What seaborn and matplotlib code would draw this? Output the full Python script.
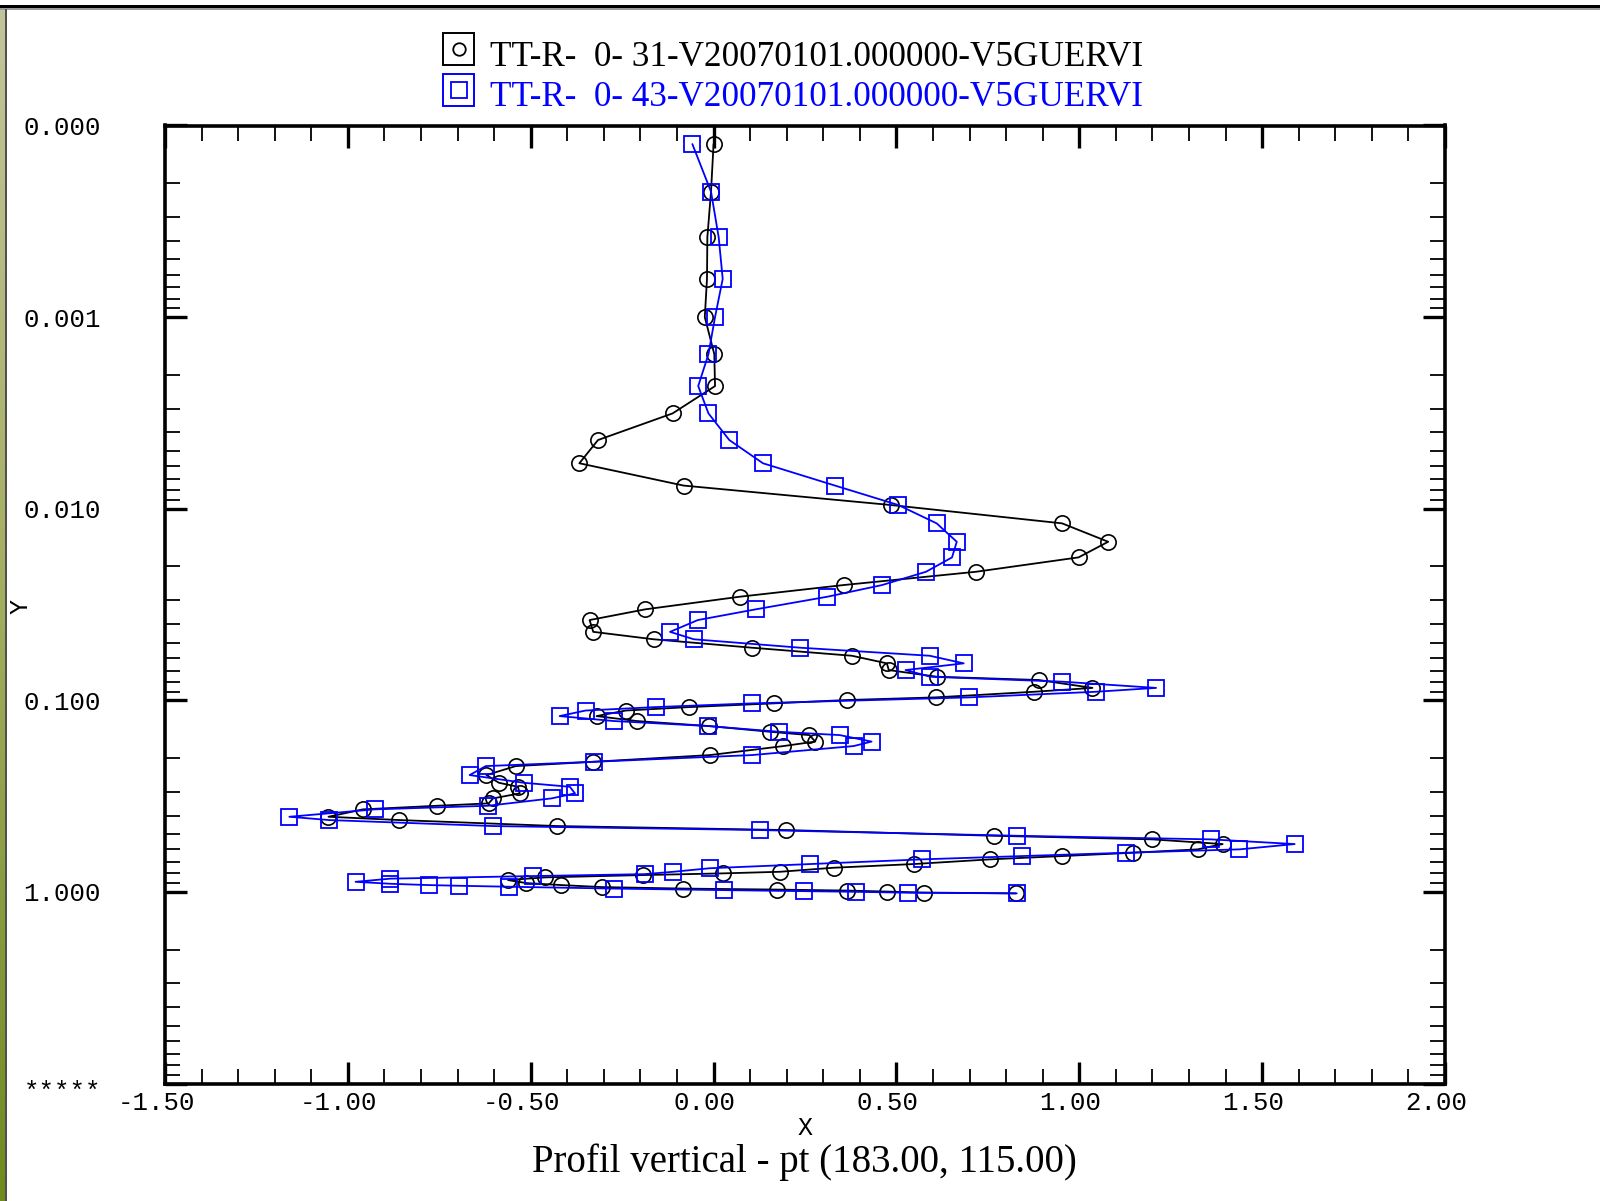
import numpy as np
import pandas as pd
import matplotlib
matplotlib.use("Agg")
import matplotlib.pyplot as plt
import seaborn as sns
from matplotlib.ticker import FixedLocator, MultipleLocator, LogLocator, NullFormatter, FixedFormatter
from matplotlib.patches import Rectangle
from matplotlib.lines import Line2D
from matplotlib.transforms import ScaledTranslation
from matplotlib.colors import LinearSegmentedColormap

# ---------------- data ----------------
black_label = "TT-R-  0- 31-V20070101.000000-V5GUERVI"
blue_label = "TT-R-  0- 43-V20070101.000000-V5GUERVI"

black_x = [0.000, -0.007, -0.017, -0.018, -0.024, 0.002, 0.004, -0.112, -0.316, -0.367,
           -0.082, 0.484, 0.953, 1.079, 0.998, 0.718, 0.356, 0.071, -0.187, -0.339,
           -0.329, -0.164, 0.104, 0.378, 0.474, 0.479, 0.611, 0.889, 1.036, 0.876,
           0.607, 0.364, 0.164, -0.066, -0.240, -0.320, -0.210, -0.012, 0.155, 0.262,
           0.278, 0.191, -0.010, -0.329, -0.541, -0.621, -0.587, -0.535, -0.530, -0.603,
           -0.615, -0.756, -0.959, -1.053, -0.859, -0.427, 0.199, 0.767, 1.200, 1.392,
           1.324, 1.146, 0.954, 0.756, 0.547, 0.328, 0.182, 0.027, -0.192, -0.462,
           -0.562, -0.512, -0.416, -0.306, -0.083, 0.173, 0.365, 0.475, 0.575, 0.826]
black_y = [1.25e-4, 2.215e-4, 3.83e-4, 6.32e-4, 1.0e-3, 1.56e-3, 2.29e-3, 3.18e-3, 4.38e-3, 5.79e-3,
           7.57e-3, 9.56e-3, 0.01192, 0.01487, 0.01794, 0.02132, 0.02501, 0.02879, 0.0335, 0.0381,
           0.0439, 0.0480, 0.0531, 0.0585, 0.0641, 0.0695, 0.0753, 0.0783, 0.0861, 0.0902,
           0.0965, 0.0996, 0.1037, 0.1084, 0.1130, 0.1208, 0.1282, 0.1362, 0.1459, 0.1518,
           0.1641, 0.1732, 0.1930, 0.2092, 0.2203, 0.2454, 0.2692, 0.2825, 0.3058, 0.3248,
           0.3449, 0.3549, 0.3706, 0.4050, 0.4214, 0.4529, 0.4752, 0.5089, 0.5314, 0.5623,
           0.5992, 0.6241, 0.6494, 0.6758, 0.7149, 0.7474, 0.7844, 0.7995, 0.816, 0.8392,
           0.8667, 0.8986, 0.9205, 0.9428, 0.9600, 0.9716, 0.9833, 0.9952, 1.007, 1.017]

blue_x = [-0.058, -0.007, 0.014, 0.025, 0.004, -0.014, -0.042, -0.014, 0.043, 0.135,
          0.332, 0.505, 0.610, 0.665, 0.652, 0.581, 0.461, 0.311, 0.115, -0.043,
          -0.119, -0.054, 0.236, 0.591, 0.684, 0.525, 0.593, 0.954, 1.210, 1.045,
          0.698, 0.105, -0.158, -0.350, -0.421, -0.273, -0.014, 0.180, 0.345, 0.432,
          0.383, 0.105, -0.327, -0.623, -0.667, -0.519, -0.393, -0.379, -0.443, -0.617,
          -0.927, -1.160, -1.051, -0.603, 0.127, 0.829, 1.360, 1.589, 1.438, 1.127,
          0.844, 0.570, 0.264, -0.011, -0.110, -0.188, -0.494, -0.884, -0.979, -0.884,
          -0.779, -0.696, -0.559, -0.273, 0.029, 0.246, 0.390, 0.531, 0.829]
blue_y = [1.25e-4, 2.215e-4, 3.83e-4, 6.32e-4, 1.0e-3, 1.56e-3, 2.29e-3, 3.18e-3, 4.38e-3, 5.79e-3,
          7.57e-3, 9.56e-3, 0.01192, 0.01487, 0.01794, 0.02132, 0.02501, 0.02879, 0.0335, 0.0381,
          0.0439, 0.0480, 0.0531, 0.0585, 0.0641, 0.0695, 0.0753, 0.0799, 0.0861, 0.0902,
          0.0965, 0.1037, 0.1084, 0.1130, 0.1208, 0.1282, 0.1362, 0.1459, 0.1518, 0.1641,
          0.1732, 0.1930, 0.2092, 0.2203, 0.2454, 0.2692, 0.2825, 0.3058, 0.3248, 0.3549,
          0.3706, 0.4050, 0.4214, 0.4529, 0.4752, 0.5089, 0.5314, 0.5623, 0.5992, 0.6241,
          0.6494, 0.6758, 0.7149, 0.752, 0.7844, 0.807, 0.826, 0.852, 0.885, 0.906,
          0.9205, 0.928, 0.939, 0.960, 0.978, 0.990, 0.998, 1.009, 1.017]

x_ticks = [-1.5, -1.0, -0.5, 0.0, 0.5, 1.0, 1.5, 2.0]
x_tick_labels = ["-1.50", "-1.00", "-0.50", "0.00", "0.50", "1.00", "1.50", "2.00"]
y_ticks = [1e-4, 1e-3, 1e-2, 1e-1, 1.0, 10.0]
y_tick_labels = ["0.000", "0.001", "0.010", "0.100", "1.000", "*****"]
title_text = "Profil vertical - pt (183.00, 115.00)"

# ---------------- style ----------------
sns.set_style("white")
plt.rcParams["font.family"] = ["DejaVu Sans"]
plt.rcParams["text.color"] = "black"
MONO = "Liberation Mono"
SERIF = "Liberation Serif"

W, H = 1600, 1201
fig = plt.figure(figsize=(W / 100, H / 100), dpi=100)
fig.patch.set_facecolor("white")

ax = fig.add_axes([165 / W, 1 - 1083.6 / H, (1445 - 165) / W, (1083.6 - 125.5) / H])
ax.set_facecolor("white")

df_black = pd.DataFrame({"x": black_x, "y": black_y})
df_blue = pd.DataFrame({"x": blue_x, "y": blue_y})

sns.lineplot(data=df_black, x="x", y="y", sort=False, estimator=None, ax=ax,
             color="black", linewidth=1.3, marker="o", markersize=11,
             markerfacecolor="none", markeredgecolor="black", markeredgewidth=1.2)
sns.lineplot(data=df_blue, x="x", y="y", sort=False, estimator=None, ax=ax,
             color="#0000ff", linewidth=1.3, marker="s", markersize=11.5,
             markerfacecolor="none", markeredgecolor="#0000ff", markeredgewidth=1.3)

ax.set_yscale("log")
ax.set_xlim(-1.5, 2.0)
ax.set_ylim(10.0, 1e-4)
ax.set_xlabel("")
ax.set_ylabel("")
if ax.get_legend() is not None:
    ax.get_legend().remove()

ax.xaxis.set_major_locator(FixedLocator(x_ticks))
ax.xaxis.set_major_formatter(FixedFormatter(x_tick_labels))
ax.xaxis.set_minor_locator(MultipleLocator(0.1))
ax.xaxis.set_minor_formatter(NullFormatter())
ax.yaxis.set_major_locator(FixedLocator(y_ticks))
ax.yaxis.set_major_formatter(FixedFormatter(y_tick_labels))
ax.yaxis.set_minor_locator(LogLocator(base=10, subs=np.arange(2, 10)))
ax.yaxis.set_minor_formatter(NullFormatter())

ax.tick_params(which="both", direction="in", top=True, right=True, bottom=True, left=True,
               color="black", labelcolor="black")
ax.tick_params(which="major", length=16, width=2.4)
ax.tick_params(which="minor", length=10.5, width=1.3)
ax.tick_params(axis="x", which="major", pad=5, labelsize=18.5)
ax.tick_params(axis="y", which="major", pad=46, labelsize=18.5)

for lab in ax.get_xticklabels():
    lab.set_fontfamily(MONO)
    lab.set_transform(lab.get_transform() + ScaledTranslation(-9 / 100, 0, fig.dpi_scale_trans))
ylabs = ax.get_yticklabels()
for lab in ylabs:
    lab.set_fontfamily(MONO)
ylabs[-1].set_transform(ylabs[-1].get_transform() + ScaledTranslation(0, -6 / 100, fig.dpi_scale_trans))

for sp in ax.spines.values():
    sp.set_color("black")
    sp.set_linewidth(2.6)
    sp.set_visible(True)

# axis labels and title
fig.text(805 / W, 1 - 1128 / H, "X", ha="center", va="center", family=MONO, fontsize=18, color="black")
fig.text(21 / W, 1 - 607 / H, "Y", ha="center", va="center", family=MONO, fontsize=18,
         rotation=90, color="black")
fig.text(804 / W, 1 - 1162 / H, title_text, ha="center", va="center", family=SERIF,
         fontsize=28, color="black")

# legend (drawn manually: boxed marker + label)
for (cy, ty, col, mk, ms, lab) in [(49, 58, "black", "o", 9, black_label),
                                   (90, 98, "#0000ff", "s", 12, blue_label)]:
    fig.add_artist(Rectangle(((459 - 15.5) / W, 1 - (cy + 15.5) / H), 31 / W, 31 / H,
                             transform=fig.transFigure, fill=False, edgecolor=col, linewidth=1.4))
    fig.add_artist(Line2D([459 / W], [1 - cy / H], transform=fig.transFigure, marker=mk,
                          markersize=ms, markerfacecolor="none", markeredgecolor=col,
                          markeredgewidth=1.3, linestyle="none"))
    fig.text(490 / W, 1 - ty / H, lab, ha="left", va="center", family=SERIF, fontsize=25.3, color=col)

# window decorations: top black border and left olive strip
fig.add_artist(Rectangle((0, 1 - 8.5 / H), 1, 3.5 / H, transform=fig.transFigure,
                         facecolor="black", edgecolor="none"))
fig.add_artist(Rectangle((0, 1 - 9.5 / H), 1, 1 / H, transform=fig.transFigure,
                         facecolor="#9a9a9a", edgecolor="none"))
strip = fig.add_axes([0, 0, 5 / W, 1 - 8.5 / H])
grad = np.linspace(0, 1, 256).reshape(-1, 1)
cmap = LinearSegmentedColormap.from_list("olive", ["#c2c59a", "#a3ad5e", "#6f8a1e"])
strip.imshow(grad, aspect="auto", cmap=cmap, origin="upper")
strip.axis("off")
fig.add_artist(Rectangle((5 / W, 0), 1.5 / W, 1 - 8.5 / H, transform=fig.transFigure,
                         facecolor="#505050", edgecolor="none"))

fig.savefig("out.png", dpi=100, facecolor="white")
